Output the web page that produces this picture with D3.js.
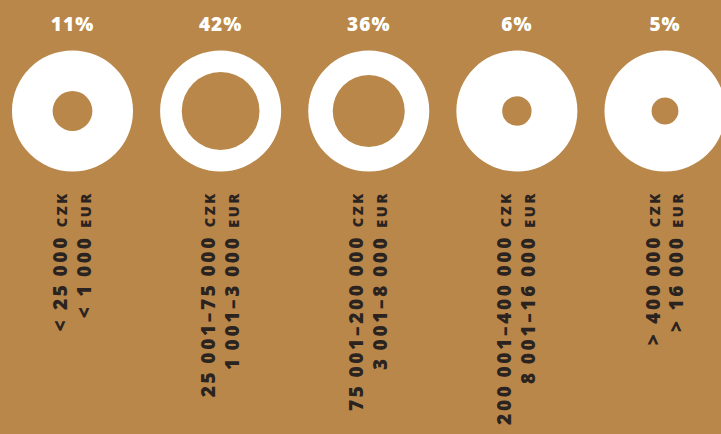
<!DOCTYPE html>
<html>
<head>
<meta charset="utf-8">
<script src="https://cdn.jsdelivr.net/npm/d3@7"></script>
<style>
  html, body { margin: 0; padding: 0; background: #b9874a; }
  svg { display: block; }
</style>
</head>
<body>
<script>
// Data
var categories = ["A", "B", "C", "D", "E"];
var percents = [11, 42, 36, 6, 5];
var czkLabels = ["< 25\u2009000", "25\u2009001–75\u2009000", "75\u2009001–200\u2009000", "200\u2009001–400\u2009000", "> 400\u2009000"];
var eurLabels = ["< 1\u2009000", "1\u2009001–3\u2009000", "3\u2009001–8\u2009000", "8\u2009001–16\u2009000", "> 16\u2009000"];

var width = 721, height = 434;
var bg = "#b9874a";
var ink = "#2a2320";
var outerR = 60.5;

// Skalaer
var xScale = d3.scalePoint().domain(categories).range([72.5, 665]);
var holeScale = d3.scaleSqrt().domain([0, 100]).range([0, 60]);

var svg = d3.select("body").append("svg").attr("width", width).attr("height", height);
svg.append("rect").attr("width", width).attr("height", height).attr("fill", bg);

var arc = d3.arc().startAngle(0).endAngle(2 * Math.PI);

var items = categories.map(function(c, i) {
  return {cat: c, pct: percents[i], czk: czkLabels[i], eur: eurLabels[i]};
});

var g = svg.selectAll(".item")
  .data(items)
  .enter()
  .append("g")
  .attr("class", "item")
  .attr("transform", function(d) { return "translate(" + xScale(d.cat) + ",0)"; });

// ringe
g.append("path")
  .attr("transform", "translate(0,111)")
  .attr("fill", "#fff")
  .attr("d", function(d) {
    return arc({innerRadius: holeScale(d.pct), outerRadius: outerR});
  });

// procent
g.append("text")
  .attr("y", 31)
  .attr("text-anchor", "middle")
  .attr("fill", "#fff")
  .style("font-family", "'Open Sans', sans-serif")
  .style("font-weight", 800)
  .style("font-size", "19px")
  .style("letter-spacing", "1px")
  .text(function(d) { return d.pct + "%"; });

// lodrette labels
function label(sel, key, unit, dx) {
  var t = sel.append("text")
    .attr("transform", "translate(" + dx + ",191) rotate(-90)")
    .attr("text-anchor", "end")
    .attr("fill", ink)
    .style("font-family", "'Open Sans', sans-serif")
    .style("font-weight", 800)
    .style("letter-spacing", "2.7px");
  t.append("tspan").style("font-size", "19px").text(function(d) { return d[key] + " "; });
  t.append("tspan").style("font-size", "14.5px").text(unit);
}
label(g, "czk", "CZK", -5.5);
label(g, "eur", "EUR", 18);
</script>
</body>
</html>
